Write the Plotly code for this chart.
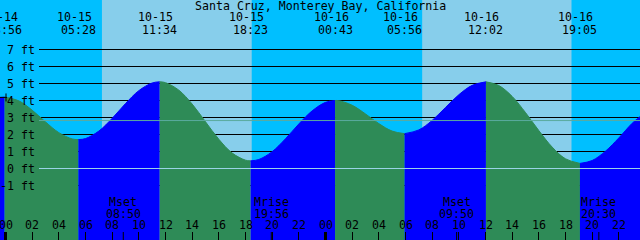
import plotly.graph_objects as go

# ---------------- data ----------------
station = "Santa Cruz, Monterey Bay, California"

# tide height readings (hours after 10-15 00:00, feet)
curve_hours = [-0.42, 0, 1, 2, 3, 4, 5, 6, 7, 8, 9, 10, 11, 12, 13, 14, 15, 16, 17,
               18, 19, 20, 21, 22, 23, 24, 25, 26, 27, 28, 29, 30, 31, 32, 33, 34,
               35, 36, 37, 38, 39, 40, 41, 42, 43, 44, 45, 46, 47, 47.59]
curve_ft = [4.18, 4.20, 3.98, 3.43, 2.74, 2.11, 1.74, 1.76, 2.20, 2.95, 3.82, 4.58,
            5.03, 5.05, 4.61, 3.79, 2.75, 1.72, 0.91, 0.49, 0.53, 0.99, 1.75, 2.62,
            3.39, 3.89, 3.99, 3.72, 3.21, 2.64, 2.20, 2.05, 2.27, 2.83, 3.59, 4.34,
            4.89, 5.10, 4.88, 4.24, 3.29, 2.23, 1.26, 0.57, 0.30, 0.47, 1.02, 1.80,
            2.66, 3.05]

# high / low tide events
ext_dates = ["10-14", "10-15", "10-15", "10-15", "10-16", "10-16", "10-16", "10-16"]
ext_times = ["23:56", "05:28", "11:34", "18:23", "00:43", "05:56", "12:02", "19:05"]
ext_ft = [4.20, 1.70, 5.10, 0.45, 4.00, 2.05, 5.10, 0.30]

# sun
sunrise = [("10-15", "07:14"), ("10-16", "07:15")]
sunset = [("10-15", "18:28"), ("10-16", "18:27")]

# moon
moon_names = ["Mset", "Mrise", "Mset", "Mrise"]
moon_dates = ["10-15", "10-15", "10-16", "10-16"]
moon_times = ["08:50", "19:56", "09:50", "20:30"]

ft_levels = [-1, 0, 1, 2, 3, 4, 5, 6, 7]
msl_ft = 2.82
hour_ticks = list(range(0, 48, 2))

# ---------------- styling ----------------
NIGHT = "#00BFFF"
DAY = "#87CEEB"
FLOOD = "#0000FF"
EBB = "#2E8B57"
FONT = dict(family="DejaVu Sans Mono", size=11.6, color="black")
W, H = 640, 240
X0PX, PXH = 5.5, 640 / 48.0          # x pixel of 10-15 00:00, pixels per hour
Y0PX, PXF = 168.5, 17.0              # y pixel of 0 ft, pixels per foot


def hrs(date, time):
    day = int(date.split("-")[1]) - 15
    h, m = time.split(":")
    return day * 24 + int(h) + int(m) / 60.0


ext_h = [hrs(d, t) for d, t in zip(ext_dates, ext_times)]

fig = go.Figure()

# water: merge readings with the high/low events, split rising / falling
pts = [(t, v) for t, v in zip(curve_hours, curve_ft)
       if min(abs(t - e) for e in ext_h) > 0.2]
pts += list(zip(ext_h, ext_ft))
pts.sort()
bounds = [pts[0][0]] + ext_h + [pts[-1][0]]
for a, b in zip(bounds[:-1], bounds[1:]):
    seg = [(t, v) for t, v in pts if a - 1e-9 <= t <= b + 1e-9]
    if len(seg) < 2:
        continue
    col = FLOOD if seg[-1][1] > seg[0][1] else EBB
    fig.add_trace(go.Scatter(x=[seg[0][0], seg[-1][0]], y=[-6, -6], mode="lines",
                             line=dict(width=0, color=col), hoverinfo="skip",
                             showlegend=False))
    fig.add_trace(go.Scatter(x=[p[0] for p in seg], y=[p[1] for p in seg],
                             mode="lines", fill="tonexty", fillcolor=col,
                             line=dict(color=col, width=1, shape="spline"),
                             hoverinfo="skip", showlegend=False))

shapes = []
# daylight bands
for (rd, rt), (sd, st) in zip(sunrise, sunset):
    shapes.append(dict(type="rect", xref="x", yref="paper", x0=hrs(rd, rt),
                       x1=hrs(sd, st), y0=0, y1=1, fillcolor=DAY,
                       line=dict(width=0), layer="below"))
# foot grid lines (behind water)
for lv in ft_levels:
    shapes.append(dict(type="line", xref="paper", yref="y", x0=39 / W, x1=1,
                       y0=lv, y1=lv, line=dict(color="black", width=1),
                       layer="below"))
# mean sea level and datum lines (over water)
shapes.append(dict(type="line", xref="paper", yref="y", x0=39 / W, x1=1,
                   y0=msl_ft, y1=msl_ft, line=dict(color="#5BAA9F", width=1),
                   layer="above"))
shapes.append(dict(type="line", xref="paper", yref="y", x0=39 / W, x1=1,
                   y0=0, y1=0, line=dict(color="#9AD3E6", width=1),
                   layer="above"))
# level mark at left edge
shapes.append(dict(type="line", xref="paper", yref="y", x0=0, x1=7 / W,
                   y0=curve_ft[0], y1=curve_ft[0], line=dict(color="black", width=1),
                   layer="above"))
shapes.append(dict(type="line", xref="paper", yref="y", x0=6 / W, x1=6 / W,
                   y0=curve_ft[0] - 4 / PXF, y1=curve_ft[0] + 4 / PXF,
                   line=dict(color="black", width=1), layer="above"))
# midnight ticks (bold)
for h in hour_ticks:
    if h % 24 == 0:
        shapes.append(dict(type="line", xref="x", yref="paper", x0=h, x1=h,
                           y0=0, y1=8 / H, line=dict(color="black", width=3),
                           layer="above"))
# moon event ticks
for d, t in zip(moon_dates, moon_times):
    mh = hrs(d, t)
    shapes.append(dict(type="line", xref="x", yref="paper", x0=mh, x1=mh,
                       y0=0, y1=8 / H, line=dict(color="black", width=1),
                       layer="above"))

ann = []
ann.append(dict(text=station, xref="paper", yref="paper", x=0.5, y=1 - 6 / H,
                xanchor="center", yanchor="middle", showarrow=False, font=FONT))
for d, t, e in zip(ext_dates, ext_times, ext_h):
    ann.append(dict(text=d, xref="x", yref="paper", x=e, y=1 - 17.5 / H,
                    xanchor="center", yanchor="middle", xshift=-4,
                    showarrow=False, font=FONT))
    ann.append(dict(text=t, xref="x", yref="paper", x=e, y=1 - 30 / H,
                    xanchor="center", yanchor="middle", showarrow=False, font=FONT))
for lv in ft_levels:
    ann.append(dict(text=f"{lv} ft", xref="paper", yref="y", x=37 / W, y=lv,
                    xanchor="right", yanchor="middle", showarrow=False, font=FONT))
for n, d, t in zip(moon_names, moon_dates, moon_times):
    mh = hrs(d, t)
    ann.append(dict(text=n, xref="x", yref="paper", x=mh, y=1 - 202 / H,
                    xanchor="center", yanchor="middle", showarrow=False, font=FONT))
    ann.append(dict(text=t, xref="x", yref="paper", x=mh, y=1 - 213.5 / H,
                    xanchor="center", yanchor="middle", showarrow=False, font=FONT))
for h in hour_ticks:
    ann.append(dict(text=f"{h % 24:02d}", xref="x", yref="paper", x=h, y=1 - 225 / H,
                    xanchor="center", yanchor="middle", showarrow=False, font=FONT))

fig.update_layout(
    width=W, height=H, margin=dict(l=0, r=0, t=0, b=0, pad=0),
    paper_bgcolor=NIGHT, plot_bgcolor=NIGHT, showlegend=False,
    shapes=shapes, annotations=ann,
    xaxis=dict(range=[-X0PX / PXH, (W - X0PX) / PXH], showgrid=False,
               zeroline=False, showline=False, showticklabels=False,
               tickvals=hour_ticks, ticks="inside", ticklen=8, tickwidth=1,
               tickcolor="black", fixedrange=True),
    yaxis=dict(range=[(Y0PX - H) / PXF, Y0PX / PXF], visible=False,
               fixedrange=True),
)

fig.write_html("out.html")
